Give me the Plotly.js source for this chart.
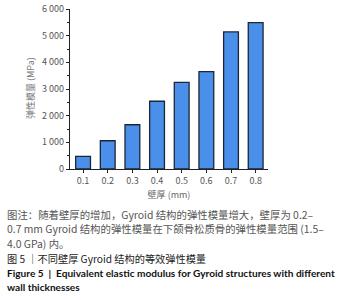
<!DOCTYPE html>
<html>
<head>
<meta charset="utf-8">
<script src="https://cdn.plot.ly/plotly-3.0.1.min.js"></script>
<style>html,body{margin:0;padding:0;background:#fff;}#chart{width:345px;height:300px;}</style>
</head>
<body>
<div id="chart"></div>
<script>
const categories = ["0.1", "0.2", "0.3", "0.4", "0.5", "0.6", "0.7", "0.8"];
const modulus = [475, 1060, 1660, 2540, 3250, 3650, 5140, 5490];
const yTickVals = [0, 1000, 2000, 3000, 4000, 5000, 6000];
const yTickText = ["0", "1 000", "2 000", "3 000", "4 000", "5 000", "6 000"];
const yTitle = '弹性模量 (MPa)';
const xTitle = '壁厚 (mm)';
const captionLines = [
  "图注：随着壁厚的增加，Gyroid 结构的弹性模量增大，壁厚为 0.2–",
  "0.7 mm Gyroid 结构的弹性模量在下颌骨松质骨的弹性模量范围 (1.5–",
  "4.0 GPa) 内。",
  "图 5 ｜不同壁厚 Gyroid 结构的等效弹性模量",
  "<b>Figure 5  |  Equivalent elastic modulus for Gyroid structures with different</b>",
  "<b>wall thicknesses</b>"
];

const L = 70, R = 77, T = 9, B = 131, W = 345, H = 300;
const pw = W - L - R, ph = H - T - B;
const px2x = px => (px - L) / pw;
const py2y = py => (H - B - py) / ph;

const captionY = [214, 228.5, 243, 258, 273, 287];
const captionColor = ["#555", "#555", "#555", "#222", "#111", "#111"];
const captionSize = [10.4, 10.4, 10.4, 10.2, 10.1, 10.1];
const font = '"Noto Sans CJK SC", "Open Sans", sans-serif';
const latinFont = 'Lato, "Noto Sans", sans-serif';
const captionFont = [font, font, font, font, latinFont, latinFont];

const annotations = captionLines.map((t, i) => ({
  text: t, xref: 'paper', yref: 'paper', x: px2x(6), y: py2y(captionY[i]),
  xanchor: 'left', yanchor: 'middle', showarrow: false, borderpad: 0,
  font: {family: captionFont[i], size: captionSize[i], color: captionColor[i]}
}));
annotations.push({
  text: yTitle, xref: 'paper', yref: 'paper', x: px2x(30), y: py2y(88),
  xanchor: 'center', yanchor: 'middle', textangle: -90, showarrow: false,
  font: {family: font, size: 9, color: '#777'}
});

const trace = {
  type: 'bar', x: categories, y: modulus,
  marker: {color: '#4a90ea', line: {color: '#1c2636', width: 1.3}},
  width: 0.6
};

const layout = {
  width: W, height: H,
  margin: {l: L, r: R, t: T, b: B, pad: 0},
  paper_bgcolor: '#fff', plot_bgcolor: '#fff',
  showlegend: false,
  xaxis: {
    type: 'category', range: [-0.53, 7.5],
    showline: true, linecolor: '#222', linewidth: 1.2,
    ticks: 'outside', ticklen: 3, tickcolor: '#222',
    tickfont: {family: font, size: 9, color: '#555'},
    title: {text: xTitle, font: {family: font, size: 9, color: '#666'}, standoff: 5},
    showgrid: false, zeroline: false
  },
  yaxis: {
    range: [0, 6000],
    tickvals: yTickVals, ticktext: yTickText,
    showline: true, linecolor: '#222', linewidth: 1.2,
    ticks: 'outside', ticklen: 3, tickcolor: '#222',
    minor: {tickvals: [500, 1500, 2500, 3500, 4500, 5500], ticks: 'outside', ticklen: 2, tickcolor: '#222'},
    tickfont: {family: font, size: 9, color: '#555'},
    showgrid: false, zeroline: false
  },
  annotations: annotations
};

Plotly.newPlot('chart', [trace], layout, {displayModeBar: false, staticPlot: true});
</script>
</body>
</html>
